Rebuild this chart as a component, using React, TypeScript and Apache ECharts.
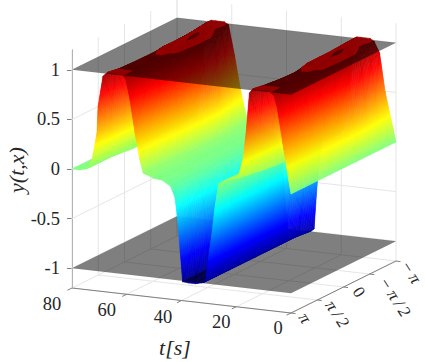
import React, { useEffect, useRef } from "react";
import * as echarts from "echarts";

const PI = Math.PI;
const tTicks = [80, 60, 40, 20, 0];
const tTickLabels = ["80", "60", "40", "20", "0"];
const xTicks = [PI, PI / 2, 0, -PI / 2, -PI];
const xTickLabels = ["π", "π/2", "0", "−π/2", "−π"];
const zTicks = [-1, -0.5, 0, 0.5, 1];
const zTickLabels = ["-1", "-0.5", "0", "0.5", "1"];
const planeLevels = [-1, 1];

// One row per x value; each row lists the t of the mesh nodes and the y read at them.
const xKnots = [PI, 0.75 * PI, 0.5 * PI, 0.25 * PI, 0, -0.25 * PI, -0.5 * PI, -0.75 * PI, -PI];
const tMesh = [
  [0,.8,3,5,6.2, 8,10,12,14, 15.2,16.3,17.5,19.4, 22,24,26.5, 27.8,28.5,30,31.2, 32,35,37.5,39.6, 40.5,41.6,42.4,44,47, 50, 54,55.2,57,58.8,60.4, 62,63.7,65.3,67, 68.7,70.5,70.9,72.7,74.5, 77,80],
  [0,.7,2.7,4.6,5.8, 7.8,9.9,11.9,13.8, 15,16.1,17.3,19.2, 22,24,26.5, 27.8,28.5,30,31.2, 32,35,37.5,39.6, 40.5,41.6,42.4,44,47, 50, 53.8,55,56.7,58.3,59.8, 61.6,63.3,65,66.7, 68.5,70.2,70.7,72.5,74.5, 77,80],
  [0,.6,2.4,4.2,5.2, 7.3,9.4,11.4,13.3, 14.5,15.7,17,19, 22,24,26.5, 27.8,28.5,30,31.2, 32,35,37.5,39.6, 40.5,41.6,42.4,44,47, 50, 53.5,54.7,56.2,57.7,59, 61,62.9,64.7,66.4, 68.2,69.9,70.5,72.3,74.5, 77,80],
  [0,.5,2.1,3.7,4.6, 6.8,8.9,11,12.9, 14,15.3,16.7,18.9, 22,24,26.5, 27.8,28.5,30,31.1, 32,35,37.5,39.6, 40.5,41.6,42.4,44,47, 50, 53.2,54.3,55.6,57,58, 60.2,62.3,64.2,66, 68,69.7,70.3,72.2,74.5, 77,80],
  [0,.45,1.8,3.2,4, 6.4,8.8,11,13.2, 14.6,15.7,17,19, 22,24,26.5, 27.8,28.5,30,31.1, 32,35,37.5,39.6, 40.5,41.6,42.4,44,47, 50, 53,54,55.2,56.4,57.2, 59.6,61.8,64,66, 68,69.7,70.3,72.2,74.5, 77,80],
  [0,.4,1.6,2.9,3.5, 6.2,8.8,11.2,13.6, 15,16,17.2,19.2, 22,24,26.5, 27.8,28.5,30,31, 32,35,37.5,39.6, 40.5,41.6,42.4,44,47, 50, 52.8,53.7,54.8,55.8,56.4, 59,61.4,63.8,66, 68.3,70,70.5,72.3,74.5, 77,80],
  [0,.5,1.8,2.9,3.5, 6.3,8.9,11.4,13.7, 15.2,16.2,17.4,19.3, 22,24,26.5, 27.8,28.5,30,31, 32,35,37.5,39.6, 40.5,41.6,42.4,44,47, 50, 52.8,53.8,54.9,55.9,56.5, 59,61.5,63.9,66.3, 68.6,70.3,70.7,72.5,74.5, 77,80],
  [0,.8,2.9,4.4,5.5, 7.7,9.9,12,14, 15.3,16.3,17.5,19.4, 22,24,26.5, 27.8,28.5,29.8,30.9, 32,35,37.5,39.6, 40.5,41.6,42.4,44,47, 50, 53.5,54.8,56.2,57.6,58.8, 60.8,62.8,64.8,66.9, 69,70.6,71,72.7,74.5, 77,80],
  [0,1.05,4,6,8, 9.5,11,12.8,14.2, 15.5,16.5,17.6,19.4, 22,24,26.5, 27.8,28.4,29.3,29.9, 31,35,37.5,39.6, 40.5,41.6,42.4,44,47, 50, 54.2,55.4,56.8,59,61.2, 62.8,64.3,65.8,67.4, 69,70.6,71,72.7,74.5, 77,80],
];
const yMesh = [
  [0,.13,.5,.85,.97, 1.015,1.015,1.015,1.015, .97,.6,.3,.1, .08,.06,.02, -.22,-.4,-.71,-.97, -.995,-1.015,-1.015,-1.01, -.7,-.34,-.17,-.06,-.01, 0, .04,.17,.435,.76,.97, 1.015,1.015,1.015,1.015, .97,.66,.39,.115,.02, 0,0],
  [0,.13,.5,.85,.97, .995,.995,.995,.995, .97,.6,.3,.08, .06,.05,.02, -.22,-.4,-.71,-.97, -.995,-1.015,-1.015,-1.01, -.7,-.34,-.17,-.06,-.01, 0, .04,.17,.435,.76,.97, .995,.995,.995,.995, .97,.66,.39,.08,.02, 0,0],
  [0,.13,.5,.85,.97, .985,.985,.985,.985, .97,.6,.3,.06, .04,.03,.02, -.22,-.4,-.71,-.97, -.995,-1.015,-1.015,-1.01, -.7,-.34,-.17,-.06,-.01, 0, .04,.17,.435,.76,.97, .985,.985,.985,.985, .97,.66,.39,.05,.02, 0,0],
  [0,.13,.5,.85,.97, .985,.998,.998,.985, .97,.6,.3,.045, .03,.02,.01, -.22,-.4,-.71,-.97, -.995,-1.015,-1.015,-1.01, -.7,-.34,-.17,-.06,-.01, 0, .04,.17,.435,.76,.97, .985,.998,.998,.985, .97,.66,.39,.035,.02, 0,0],
  [0,.13,.5,.85,.97, 1.015,1.015,1.015,1.015, .97,.6,.3,.04, .03,.02,.01, -.22,-.4,-.71,-.97, -.995,-1.015,-1.015,-1.01, -.7,-.34,-.17,-.06,-.01, 0, .04,.17,.435,.76,.97, 1.015,1.015,1.015,1.015, .97,.66,.39,.035,.02, 0,0],
  [0,.13,.5,.85,.97, 1.015,1.015,1.005,1.01, .97,.6,.3,.04, .03,.02,.01, -.22,-.4,-.71,-.97, -.995,-1.015,-1.015,-1.01, -.7,-.34,-.17,-.06,-.01, 0, .04,.17,.435,.76,.97, 1.015,1.015,1.005,1.01, .97,.66,.39,.035,.02, 0,0],
  [0,.13,.5,.85,.97, 1.015,1.015,.985,1.01, .97,.6,.3,.04, .03,.02,.01, -.22,-.4,-.71,-.97, -.995,-1.015,-1.015,-1.01, -.7,-.34,-.17,-.06,-.01, 0, .04,.17,.435,.76,.97, 1.015,1.015,.985,1.01, .97,.66,.39,.035,.02, 0,0],
  [0,.13,.5,.85,.97, .99,1.01,1.015,1.015, .97,.6,.3,.04, .03,.02,.01, -.22,-.4,-.71,-.97, -.995,-1.015,-1.015,-1.01, -.7,-.34,-.17,-.06,-.01, 0, .04,.17,.435,.76,.97, .99,1.01,1.015,1.015, .97,.66,.39,.035,.02, 0,0],
  [0,.13,.5,.88,.99, 1.015,1.015,1.015,1.015, .99,.6,.3,.04, .03,.02,.01, -.22,-.38,-.71,-.97, -.995,-1.015,-1.015,-1.01, -.7,-.34,-.17,-.06,-.01, 0, .05,.17,.35,.69,.99, 1.015,1.015,1.015,1.015, .99,.66,.39,.035,.02, 0,0],
];

const jetStops = [
  [0, 0, 0, 0.5],
  [0.125, 0, 0, 1],
  [0.375, 0, 1, 1],
  [0.625, 1, 1, 0],
  [0.875, 1, 0, 0],
  [1, 0.5, 0, 0],
];
const C_MIN = -1.05;
const C_MAX = 1.05;
const BAND = 0.01;
const FONT = "Liberation Serif";
const INK = "#262626";
const GRID = "#e6e6e6";
const AXIS = "#808080";

const jet = (y: number) => {
  const v = Math.min(1, Math.max(0, (y - C_MIN) / (C_MAX - C_MIN)));
  for (let k = 1; k < jetStops.length; k++) {
    if (v <= jetStops[k][0]) {
      const a = jetStops[k - 1];
      const b = jetStops[k];
      const u = (v - a[0]) / (b[0] - a[0]);
      const c = [1, 2, 3].map((n) => Math.round(255 * (a[n] + (b[n] - a[n]) * u)));
      return `rgb(${c[0]},${c[1]},${c[2]})`;
    }
  }
  return "rgb(128,0,0)";
};

type P = [number, number, number];
const clip = (poly: P[], level: number, above: boolean): P[] => {
  const out: P[] = [];
  for (let k = 0; k < poly.length; k++) {
    const a = poly[k];
    const b = poly[(k + 1) % poly.length];
    const ia = above ? a[2] >= level : a[2] <= level;
    const ib = above ? b[2] >= level : b[2] <= level;
    if (ia) out.push(a);
    if (ia !== ib) {
      const u = (level - a[2]) / (b[2] - a[2]);
      out.push([a[0] + (b[0] - a[0]) * u, a[1] + (b[1] - a[1]) * u, level]);
    }
  }
  return out;
};

const xToF = (x: number) => (PI - x) / (2 * PI);
const node = (i: number, j: number): P => [tMesh[j][i], xToF(xKnots[j]), yMesh[j][i]];

// kinds: 0 frame, 1 surface below -1, 2 plane, 3 surface between planes, 4 surface above 1, 5 texts
const items: number[][] = [[0, 0, 0]];
const layerCells = (kind: number, test: (lo: number, hi: number) => boolean) => {
  for (let i = tMesh[0].length - 1; i >= 1; i--) {
    for (let j = xKnots.length - 1; j >= 1; j--) {
      const zs = [yMesh[j][i], yMesh[j - 1][i], yMesh[j][i - 1], yMesh[j - 1][i - 1]];
      if (test(Math.min(...zs), Math.max(...zs))) items.push([kind, i, j]);
    }
  }
};
layerCells(1, (lo) => lo < planeLevels[0]);
items.push([2, planeLevels[0], 0]);
layerCells(3, (lo, hi) => hi > planeLevels[0] && lo < planeLevels[1]);
items.push([2, planeLevels[1], 0]);
layerCells(4, (_lo, hi) => hi > planeLevels[1]);
items.push([5, 0, 0]);

const tLabelNudge = [[-20, 16], [-20, 16], [-18.5, 16], [-15, 15], [-13, 15]];
const xLabelNudge = [[14, 5], [20, 14], [15.5, 5], [25, 23], [15, 11]];

const renderItem = (_params: any, api: any) => {
  const kind = api.value(0);
  const a = api.value(1);
  const b = api.value(2);
  const at = (t: number, f: number, z: number) => {
    const p = api.coord([t, z]);
    return [p[0] + 105 * f, p[1] + (25 * (80 - t)) / 80 - 52 * f];
  };
  const seg = (p: number[], q: number[], stroke: string, lineWidth = 1) => ({
    type: "line",
    shape: { x1: p[0], y1: p[1], x2: q[0], y2: q[1] },
    style: { stroke, lineWidth },
    silent: true,
  });
  const facet = (points: number[][], fill: string) => ({
    type: "polygon",
    shape: { points },
    style: { fill, stroke: fill, lineWidth: 0.5, lineJoin: "round" },
    silent: true,
  });
  if (kind === 0) {
    const zMin = -1.2;
    const zMax = 1.2;
    const kids: any[] = [];
    tTicks.forEach((t) => {
      kids.push(seg(at(t, 0, zMin), at(t, 1, zMin), GRID));
      kids.push(seg(at(t, 1, zMin), at(t, 1, zMax), GRID));
    });
    xTicks.forEach((x) => {
      const f = xToF(x);
      kids.push(seg(at(0, f, zMin), at(80, f, zMin), GRID));
      kids.push(seg(at(80, f, zMin), at(80, f, zMax), GRID));
    });
    zTicks.forEach((z) => {
      kids.push(seg(at(80, 0, z), at(80, 1, z), GRID));
      kids.push(seg(at(80, 1, z), at(0, 1, z), GRID));
    });
    kids.push(seg(at(80, 0, zMin), at(0, 0, zMin), AXIS));
    kids.push(seg(at(0, 0, zMin), at(0, 1, zMin), AXIS));
    tTicks.forEach((t) => {
      const p = at(t, 0, zMin);
      kids.push(seg(p, [p[0] - 4.5, p[1] + 2.2], AXIS));
    });
    xTicks.forEach((x) => {
      const p = at(0, xToF(x), zMin);
      kids.push(seg(p, [p[0] + 4.5, p[1] + 0.6], AXIS));
    });
    return { type: "group", children: kids };
  }
  if (kind === 2) {
    const pts = [at(0, 0, a), at(0, 1, a), at(80, 1, a), at(80, 0, a)];
    return {
      type: "polygon",
      shape: { points: pts },
      style: { fill: "rgba(0,0,0,0.5)" },
      silent: true,
    };
  }
  if (kind === 5) {
    const text = (s: string, x: number, y: number, fontSize: number, italic: boolean, rotation = 0) => ({
      type: "text",
      x,
      y,
      rotation,
      silent: true,
      style: {
        text: s,
        fontFamily: FONT,
        fontSize,
        fontStyle: italic ? "italic" : "normal",
        fill: INK,
        align: "center",
        verticalAlign: "middle",
      },
    });
    const kids: any[] = [];
    tTicks.forEach((t, k) => {
      const p = at(t, 0, -1.2);
      kids.push(text(tTickLabels[k], p[0] + tLabelNudge[k][0], p[1] + tLabelNudge[k][1], 18.5, false));
    });
    xTicks.forEach((x, k) => {
      const p = at(0, xToF(x), -1.2);
      const s = xTickLabels[k].split("").join("\u2009");
      kids.push(text(s, p[0] + xLabelNudge[k][0], p[1] + xLabelNudge[k][1], 17, k !== 2, (-57 * PI) / 180));
    });
    kids.push(text("t[s]", 175, 347, 22, true));
    kids.push(text("y(t,x)", 16, 170, 22, true, PI / 2));
    return { type: "group", children: kids };
  }
  const lo = kind === 1 ? -1.6 : kind === 3 ? planeLevels[0] : planeLevels[1];
  const hi = kind === 1 ? planeLevels[0] : kind === 3 ? planeLevels[1] : 1.6;
  const tris: P[][] = [
    [node(a, b), node(a - 1, b), node(a - 1, b - 1)],
    [node(a, b), node(a - 1, b - 1), node(a, b - 1)],
  ];
  const kids: any[] = [];
  tris.forEach((tri) => {
    const zs = tri.map((p) => p[2]);
    const from = Math.max(lo, Math.floor(Math.min(...zs) / BAND) * BAND);
    const to = Math.min(hi, Math.max(...zs));
    if (zs[0] === zs[1] && zs[1] === zs[2]) {
      if (zs[0] < lo || zs[0] > hi) return;
      kids.push(facet(tri.map((p) => at(p[0], p[1], p[2])), jet(zs[0])));
      return;
    }
    for (let z0 = from; z0 < to; z0 += BAND) {
      const z1 = Math.min(z0 + BAND, hi);
      const bandLo = Math.max(z0, lo);
      let poly = clip(tri, bandLo, true);
      if (poly.length >= 3) poly = clip(poly, z1, false);
      if (poly.length < 3) continue;
      kids.push(facet(poly.map((p) => at(p[0], p[1], p[2])), jet((bandLo + z1) / 2)));
    }
  });
  return { type: "group", children: kids };
};

export default function App() {
  const ref = useRef<HTMLDivElement>(null);
  useEffect(() => {
    const chart = echarts.init(ref.current!, undefined, { renderer: "svg" });
    chart.setOption({
      animation: false,
      backgroundColor: "#ffffff",
      grid: { left: 72, top: 50, width: 219, height: 238, containLabel: false, outerBoundsMode: "none" },
      xAxis: { type: "value", min: 0, max: 80, inverse: true, show: false },
      yAxis: {
        type: "value",
        min: -1.2,
        max: 1.2,
        position: "left",
        axisLine: { show: true, onZero: false, lineStyle: { color: AXIS, width: 1 } },
        axisTick: { show: true, length: 5, customValues: zTicks, lineStyle: { color: AXIS, width: 1 } },
        axisLabel: {
          show: true,
          margin: 12,
          customValues: zTicks,
          formatter: (v: number) => zTickLabels[zTicks.indexOf(v)] ?? String(v),
          fontFamily: FONT,
          fontSize: 18.5,
          color: INK,
        },
        splitLine: { show: false },
      },
      series: [
        {
          type: "custom",
          coordinateSystem: "cartesian2d",
          clip: false,
          silent: true,
          progressive: 0,
          animation: false,
          renderItem,
          data: items,
          encode: { x: 1, y: 2 },
        },
      ],
    });
    return () => chart.dispose();
  }, []);
  return <div ref={ref} style={{ position: "absolute", left: 0, top: 0, width: 425, height: 362 }} />;
}
